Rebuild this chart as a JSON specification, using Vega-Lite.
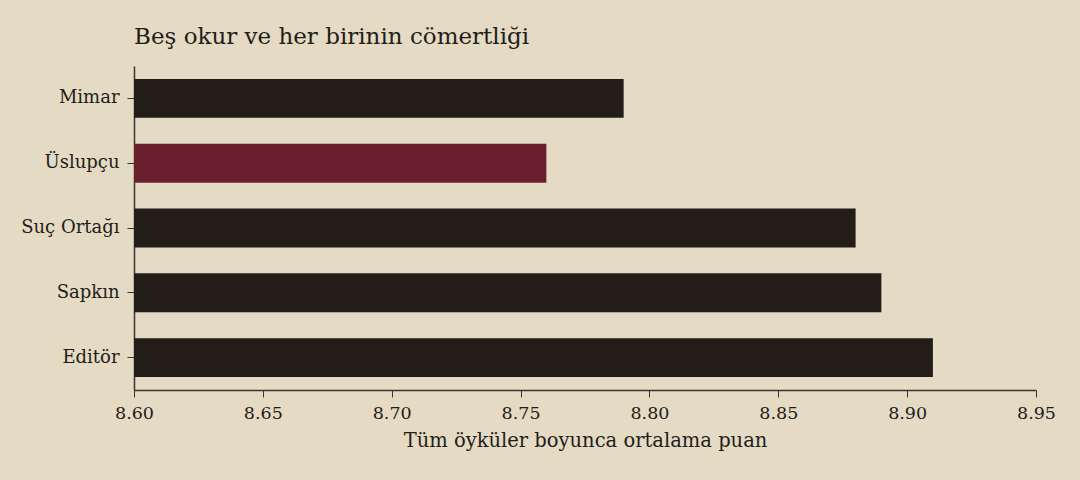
{
  "$schema": "https://vega.github.io/schema/vega-lite/v6.json",
  "width": 902,
  "height": 324,
  "background": "#e5dac4",
  "padding": {"left": 134, "top": 66, "right": 44, "bottom": 90},
  "autosize": {"type": "none"},
  "title": {
    "text": "Beş okur ve her birinin cömertliği",
    "anchor": "start",
    "frame": "group",
    "font": "DejaVu Serif",
    "fontSize": 23,
    "fontWeight": "normal",
    "color": "#221d18",
    "offset": 17
  },
  "config": {
    "view": {"stroke": null},
    "font": "DejaVu Serif",
    "axis": {
      "domainColor": "#3a3530",
      "tickColor": "#3a3530",
      "labelColor": "#221d18",
      "titleColor": "#221d18",
      "labelFont": "DejaVu Serif",
      "titleFont": "DejaVu Serif",
      "grid": false
    }
  },
  "data": {
    "values": [
      {"reader": "Mimar", "score": 8.79, "highlight": "no"},
      {"reader": "Üslupçu", "score": 8.76, "highlight": "yes"},
      {"reader": "Suç Ortağı", "score": 8.88, "highlight": "no"},
      {"reader": "Sapkın", "score": 8.89, "highlight": "no"},
      {"reader": "Editör", "score": 8.91, "highlight": "no"}
    ]
  },
  "mark": {"type": "bar"},
  "encoding": {
    "y": {
      "field": "reader",
      "type": "nominal",
      "sort": null,
      "scale": {"paddingInner": 0.4, "paddingOuter": 0.2},
      "axis": {"title": null, "labelFontSize": 18, "labelPadding": 8, "tickSize": 7, "domainWidth": 1.5}
    },
    "x": {
      "field": "score",
      "type": "quantitative",
      "scale": {"domain": [8.6, 8.95], "zero": false, "nice": false},
      "axis": {
        "title": "Tüm öyküler boyunca ortalama puan",
        "titleFontSize": 19.5,
        "titleFontWeight": "normal",
        "titlePadding": 10,
        "labelFontSize": 17.5,
        "labelFlush": false,
        "format": ".2f",
        "values": [8.6, 8.65, 8.7, 8.75, 8.8, 8.85, 8.9, 8.95],
        "tickSize": 7,
        "domainWidth": 1.5,
        "labelPadding": 7
      }
    },
    "x2": {"datum": 8.6},
    "color": {
      "field": "highlight",
      "type": "nominal",
      "scale": {"domain": ["no", "yes"], "range": ["#221d18", "#6a1f2d"]},
      "legend": null
    }
  }
}
